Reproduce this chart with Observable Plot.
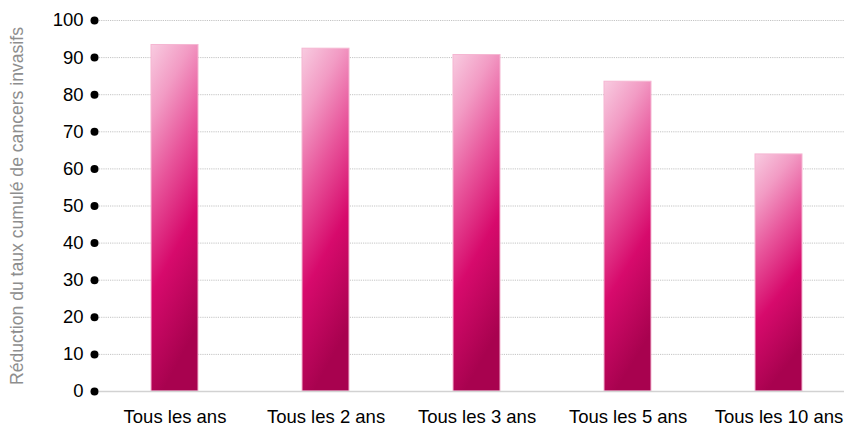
<!DOCTYPE html>
<html>
<head>
<meta charset="utf-8">
<script src="https://cdn.jsdelivr.net/npm/d3@7"></script>
<script src="https://cdn.jsdelivr.net/npm/@observablehq/plot@0.6"></script>
<style>
  html, body { margin: 0; padding: 0; background: #fff; }
  svg { display: block; }
</style>
</head>
<body>
<div id="chart"></div>
<script>
const categories = ["Tous les ans", "Tous les 2 ans", "Tous les 3 ans", "Tous les 5 ans", "Tous les 10 ans"];
const values = [93.4, 92.4, 90.7, 83.5, 63.9];
const yTicks = [0, 10, 20, 30, 40, 50, 60, 70, 80, 90, 100];
const gridTicks = [10, 20, 30, 40, 50, 60, 70, 80, 90, 100];
const yTitle = "Réduction du taux cumulé de cancers invasifs";

const data = categories.map((c, i) => ({category: c, value: values[i]}));

const chart = Plot.plot({
  width: 844,
  height: 429,
  marginLeft: 99,
  marginRight: 0,
  marginTop: 20,
  marginBottom: 38,
  style: {fontFamily: "'Liberation Sans', Arial, sans-serif", background: "#fff", overflow: "visible"},
  x: {domain: categories, range: [99, 854], paddingInner: 0.689, paddingOuter: 0.3445},
  y: {domain: [0, 100]},
  marks: [
    Plot.ruleY(gridTicks, {stroke: "#c4c4c4", strokeWidth: 1, strokeDasharray: "1.2,1"}),
    Plot.barY(data, {x: "category", y: "value", fill: "url(#barGrad)", stroke: "#f5b6d2", strokeWidth: 1, inset: 0}),
    Plot.ruleY([0], {stroke: "#d2d2d2", strokeWidth: 1.5}),
    Plot.dot(yTicks, {y: d => d, frameAnchor: "left", dx: -5, r: 4, fill: "#000", stroke: "none"}),
    Plot.axisY({ticks: yTicks, tickSize: 0, tickPadding: 16, fontSize: 18.5, fill: "#000",
      label: yTitle, labelAnchor: "center", labelArrow: "none", labelOffset: 89}),
    Plot.axisX({tickSize: 0, tickPadding: 18, fontSize: 18.5, fill: "#000", label: null})
  ]
});

const svg = d3.select(chart);
const defs = svg.insert("defs", ":first-child");
const grad = defs.append("linearGradient")
  .attr("id", "barGrad")
  .attr("x1", 0).attr("y1", 0).attr("x2", 0.25).attr("y2", 1);
[[0, "#f8cbe0"], [0.2, "#f29bc4"], [0.42, "#e8559b"], [0.68, "#d70a6c"], [1, "#a8024f"]]
  .forEach(([o, c]) => grad.append("stop").attr("offset", o).attr("stop-color", c));

// style the y-axis title
svg.selectAll("[aria-label='y-axis label'] text, g[aria-label='y-axis label']")
  .attr("fill", "#8e8e8e").style("font-size", "17.6px");

document.getElementById("chart").appendChild(chart);
</script>
</body>
</html>
